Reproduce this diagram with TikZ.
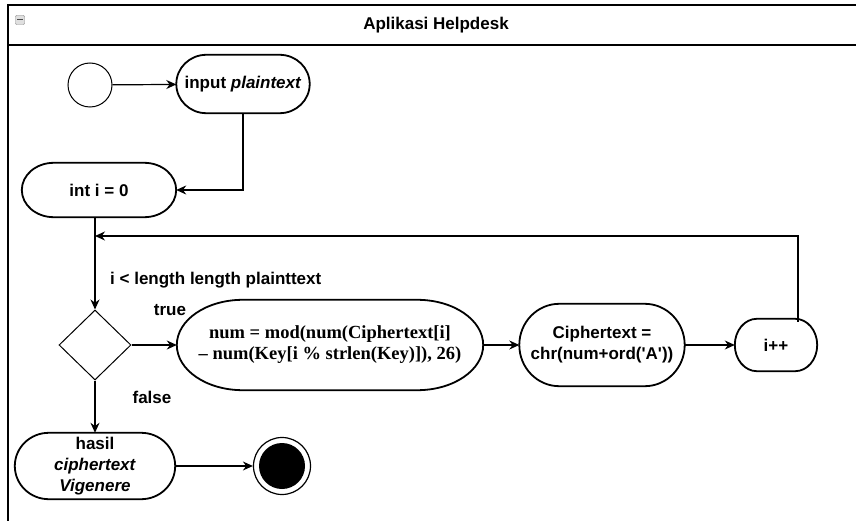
\documentclass[tikz,border=0pt]{standalone}
\usepackage{fontspec}
\setmainfont{Liberation Sans}
\newfontfamily\serifb{Liberation Serif}
\usetikzlibrary{arrows.meta,shapes.geometric,calc}
\newcommand\ovalbox[2]{%
  \draw[line width=1.8pt] let \p1=(#1.north), \p2=(#1.center), \n1={\y1-\y2} in
    ([xshift=-#2]#1.north east) arc[start angle=90, end angle=-90, x radius=#2, y radius=\n1]
    -- ([xshift=#2]#1.south west) arc[start angle=270, end angle=90, x radius=#2, y radius=\n1]
    -- cycle;}
\begin{document}
\begin{tikzpicture}[x=1pt,y=-1pt,
  act/.style={align=center, inner sep=0pt, font=\bfseries\fontsize{17}{21}\selectfont},
  conn/.style={line width=1.2pt, -{Stealth[length=10pt,width=9pt]}},
  lbl/.style={font=\bfseries\fontsize{17}{20}\selectfont, inner sep=0pt}]
\useasboundingbox (0,0) rectangle (856,521);
% frame
\draw[line width=1.3pt] (856,5) -- (8,5) -- (8,521);
\draw[line width=1.3pt] (8,45) -- (856,45);
\node[lbl] (title) at (436,25) {Aplikasi Helpdesk};
\node[draw=gray, fill=gray!25, rounded corners=1pt, minimum size=9pt, inner sep=0pt] (icon) at (20,20) {};
\draw[black!70, line width=1pt] ([xshift=2pt]icon.west) -- ([xshift=-2pt]icon.east);
% nodes
\node[circle, draw, line width=1pt, minimum size=44pt, inner sep=0pt] (start) at (90,85) {};
\node[act, minimum width=133pt, minimum height=58pt] (input) at (243,84) {input \textit{plaintext}};
\ovalbox{input}{30pt}
\node[act, minimum width=154pt, minimum height=54pt] (int) at (99,190) {int i = 0};
\ovalbox{int}{32pt}
\node[diamond, draw, line width=1pt, aspect=1, minimum width=72pt, minimum height=70pt, inner sep=0pt] (dia) at (95,345) {};
\node[act, minimum width=306pt, minimum height=90pt,
      font=\serifb\bfseries\fontsize{18.5}{21}\selectfont] (num) at (330,345)
      {num = mod(num(Ciphertext[i]\\ \textendash{} num(Key[i \% strlen(Key)]), 26)};
\ovalbox{num}{66pt}
\node[act, minimum width=165pt, minimum height=82pt] (ciph) at (602,345)
      {Ciphertext =\\ chr(num+ord(\textquotesingle A\textquotesingle))};
\ovalbox{ciph}{40pt}
\node[act, minimum width=82pt, minimum height=52pt] (ipp) at (776,345) {i++};
\ovalbox{ipp}{22pt}
\node[act, minimum width=160pt, minimum height=66pt] (hasil) at (95,466)
      {hasil\\ \textit{ciphertext}\\ \textit{Vigenere}};
\ovalbox{hasil}{34pt}
\node[circle, draw, line width=1.2pt, minimum size=57pt, inner sep=0pt] (end) at (282,466) {};
\fill (end.center) circle (23pt);
% labels
\node[lbl, anchor=west] (cond) at (110,280) {i < length length plainttext};
\node[lbl] (ltrue) at (170,310) {true};
\node[lbl] (lfalse) at (152,397) {false};
% connectors
\coordinate (loopR) at (798,236);
\draw[conn] (start) -- (input);
\draw[conn] (input.south) |- (int.east);
\draw[conn] (dia.north |- int.south) -- (dia.north);
\draw[conn] (dia.east) -- (num.west);
\draw[conn] (num.east) -- (ciph.west);
\draw[conn] (ciph.east) -- (ipp.west);
\draw[conn] ([yshift=-3pt]ipp.north -| loopR) -- (loopR) -- (loopR -| dia.north);
\draw[conn] (dia.south) -- (hasil.north);
\draw[conn] (hasil.east) -- (end.west);
\end{tikzpicture}
\end{document}
